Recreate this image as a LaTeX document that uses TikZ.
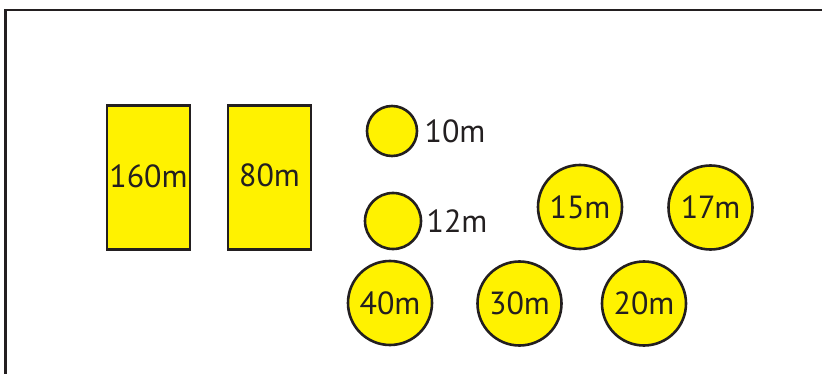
\documentclass[tikz,border=0pt]{standalone}
\usepackage{fontspec}
\setmainfont{PT Sans}
\definecolor{plotyellow}{HTML}{FFF200}
\definecolor{inkgray}{HTML}{231F20}
\begin{document}
\begin{tikzpicture}[x=1pt, y=-1pt, line width=2.6pt,
    sitefont/.style={text=inkgray, font=\fontsize{32}{34}\selectfont},
    bed/.style={draw=inkgray, fill=plotyellow, rectangle, inner sep=0pt,
        minimum width=83pt, minimum height=144pt, sitefont},
    tank/.style={draw=inkgray, fill=plotyellow, circle, inner sep=0pt,
        minimum size=#1, sitefont},
    tag/.style={anchor=west, inner sep=0pt, sitefont}]
    % Rahmen
    \clip (0,0) rectangle (822,374);
    \draw[draw=inkgray] (5.3,10) rectangle (850,400);

    % Beete
    \node[bed] (b160) at (148.5,177.5) {\raisebox{2pt}{160m}};
    \node[bed] (b80) at (269.5,177.5) {\raisebox{4pt}{80m}};

    % kleine Kreise mit Beschriftung
    \node[tank=50pt] (c10) at (392,131) {};
    \node[tag] (t10) at ([xshift=5pt]c10.east) {10m};
    \node[tank=56pt] (c12) at (393,221) {};
    \node[tag] (t12) at ([xshift=3pt]c12.east) {12m};

    % grosse Kreise
    \node[tank=84pt] (c15) at (580,207) {15m};
    \node[tank=84pt] (c17) at (710.5,207.5) {17m};
    \node[tank=84pt] (c40) at (390,303) {40m};
    \node[tank=84pt] (c30) at (519.5,303.5) {30m};
    \node[tank=84pt] (c20) at (644,303.5) {20m};
\end{tikzpicture}
\end{document}
